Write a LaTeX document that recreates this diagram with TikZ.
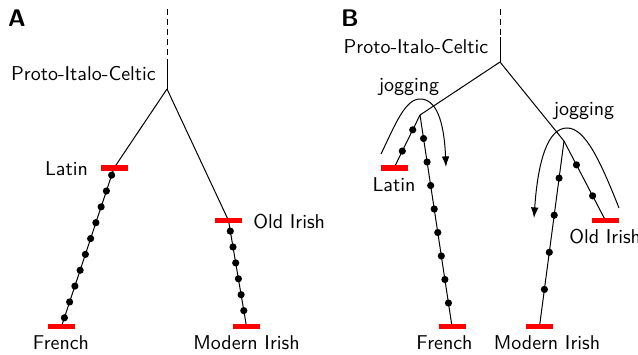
\documentclass[tikz,border=0pt]{standalone}
\usetikzlibrary{arrows.meta,calc}
\pgfdeclarelayer{bg}
\pgfsetlayers{bg,main}
\begin{document}
\begin{tikzpicture}[x=0.5pt,y=-0.5pt,
  font=\sffamily,
  branch/.style={line width=0.5pt},
  bar/.style={fill=red, draw=none, minimum width=13.5pt, minimum height=2.6pt, inner sep=0pt},
  dot/.style={circle, fill=black, draw=none, minimum size=3.6pt, inner sep=0pt},
  lbl/.style={inner sep=0pt, anchor=base},
  panel/.style={inner sep=0pt, font=\sffamily\bfseries\fontsize{12}{14}\selectfont},
  jog/.style={line width=0.5pt, -{Latex[length=5.3pt,width=3.8pt]}},
  stem/.style={line width=0.5pt, dash pattern=on 2.8pt off 2.2pt}]
\useasboundingbox (0,0) rectangle (638,354);

% panel letters
\node[panel] (labA) at (17,18.5) {A};
\node[panel] (labB) at (350,18.5) {B};

% ---------------- Panel A ----------------
\coordinate (topA) at (167,9);
\coordinate (midA) at (167,60);
\coordinate (rootA) at (167,89);
\node[bar] (latinA) at (114,168) {};
\node[bar] (oldirA) at (228.5,220.5) {};
\node[bar] (frenchA) at (61.5,326.5) {};
\node[bar] (modirA) at (246.5,326.5) {};
\begin{pgfonlayer}{bg}
\draw[stem] (topA) -- (midA);
\draw[branch] (midA) -- (rootA);
\draw[branch] (rootA) -- (latinA.center) -- (frenchA.center);
\draw[branch] (rootA) -- (oldirA.center) -- (modirA.center);
\end{pgfonlayer}
\foreach \i in {0,...,9}
  \node[dot] (dA\i) at ($(latinA.center)!{0.045+0.1*\i}!(frenchA.center)$) {};
\foreach \i in {0,...,5}
  \node[dot] (eA\i) at ($(oldirA.center)!{0.1+0.15*\i}!(modirA.center)$) {};

\node[lbl] (picA) at (83.5,80) {Proto-Italo-Celtic};
\node[lbl] (tLatinA) at (66.5,175) {Latin};
\node[lbl, anchor=base west] (tOldA) at (253,228) {Old Irish};
\node[lbl] (tFrenchA) at (61,349) {French};
\node[lbl] (tModA) at (246.5,349) {Modern Irish};

% ---------------- Panel B ----------------
\coordinate (topB) at (500,9);
\coordinate (midB) at (500,37);
\coordinate (rootB) at (500,62);
\coordinate (jL) at (420,115);
\coordinate (jR) at (564,141);
\node[bar] (latinB) at (394,168) {};
\node[bar] (frenchB) at (452,326.5) {};
\node[bar] (modirB) at (539.5,326.5) {};
\node[bar] (oldirB) at (605.5,220.5) {};
\begin{pgfonlayer}{bg}
\draw[stem] (topB) -- (midB);
\draw[branch] (midB) -- (rootB);
\draw[branch] (rootB) -- (jL);
\draw[branch] (rootB) -- (jR);
\draw[branch] (jL) -- (latinB.center);
\draw[branch] (jL) -- (frenchB.center);
\draw[branch] (jR) -- (oldirB.center);
\draw[branch] (jR) -- (modirB.center);
\end{pgfonlayer}
\foreach \t [count=\i] in {0.28,0.68}
  \node[dot] (dB\i) at ($(jL)!\t!(latinB.center)$) {};
\foreach \i in {1,...,8}
  \node[dot] (fB\i) at ($(jL)!{\i/9}!(frenchB.center)$) {};
\foreach \t [count=\i] in {0.30,0.69}
  \node[dot] (gB\i) at ($(jR)!\t!(oldirB.center)$) {};
\foreach \i in {1,...,4}
  \node[dot] (hB\i) at ($(jR)!{0.2*\i}!(modirB.center)$) {};

% jogging arrows
\coordinate (jogLs) at (381,154);
\coordinate (jogLe) at (446,167);
\coordinate (jogRs) at (619,208);
\coordinate (jogRe) at (534,218);
\draw[jog] (jogLs) .. controls (395,125) and (405,99) .. (420,99)
                   .. controls (436,99) and (444,120) .. (jogLe);
\draw[jog] (jogRs) .. controls (600,160) and (585,128) .. (567,128)
                   .. controls (548,128) and (538,160) .. (jogRe);

\node[lbl] (picB) at (416,53) {Proto-Italo-Celtic};
\node[lbl] (jogL) at (409,91) {jogging};
\node[lbl] (jogR) at (584,115) {jogging};
\node[lbl] (tLatinB) at (394,191) {Latin};
\node[lbl, anchor=base west] (tOldB) at (569,243) {Old Irish};
\node[lbl] (tFrenchB) at (444.5,349) {French};
\node[lbl] (tModB) at (547,349) {Modern Irish};
\end{tikzpicture}
\end{document}
